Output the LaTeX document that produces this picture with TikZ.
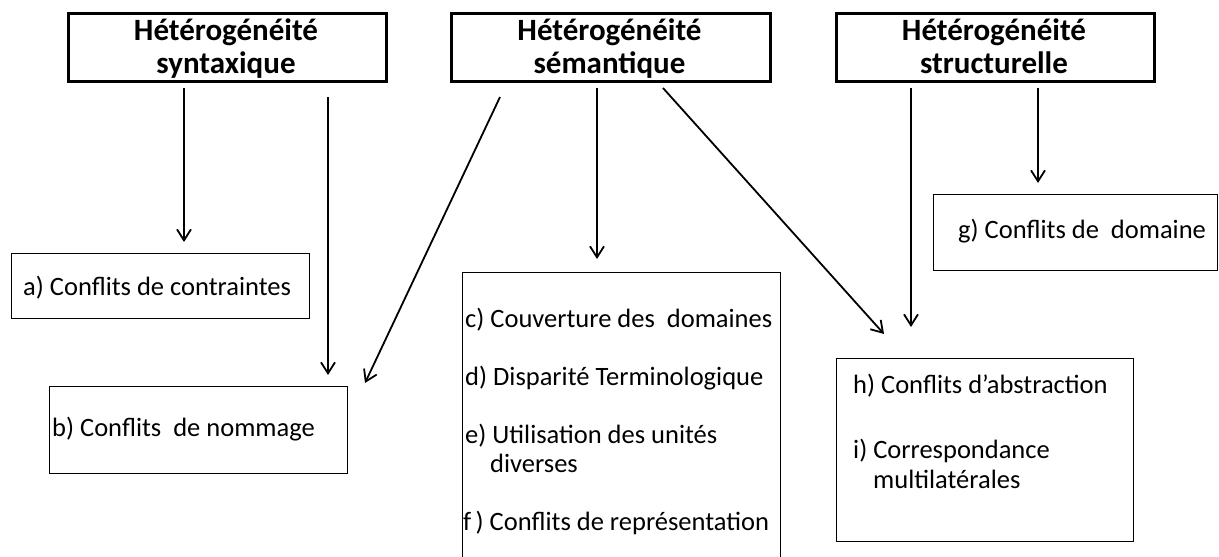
\documentclass[tikz,border=0pt]{standalone}
\usepackage{fontspec}
\setmainfont{Carlito}
\usetikzlibrary{arrows.meta}

\newcommand{\hetfont}{\fontsize{31}{34}\selectfont\bfseries}
\newcommand{\conffont}{\fontsize{26.5}{29}\selectfont}

\tikzset{
    box/.style={draw, inner sep=0pt, anchor=north west},
    headbox/.style={box, line width=2.6pt},
    confbox/.style={box, line width=1.3pt},
    head/.style={font=\hetfont, anchor=base, inner sep=0pt},
    conf/.style={font=\conffont, anchor=base west, inner sep=0pt},
    arr/.style={-{Straight Barb[length=11pt,width=14pt]}, line width=1.8pt}
}

\begin{document}
\begin{tikzpicture}[x=1pt,y=-1pt]
    \useasboundingbox (0,0) rectangle (1219,557);

    % heterogeneite boxes
    \node [headbox, minimum width=318pt, minimum height=68pt] (syn) at (67,12) {};
    \node [headbox, minimum width=319pt, minimum height=68pt] (sem) at (450,12) {};
    \node [headbox, minimum width=318pt, minimum height=68pt] (str) at (835,12) {};
    \node [head] (syn1) at (226,40) {Hétérogénéité};
    \node [head] (syn2) at (226,73) {syntaxique};
    \node [head] (sem1) at (609.5,40) {Hétérogénéité};
    \node [head] (sem2) at (609.5,73) {sémantique};
    \node [head] (str1) at (994,40) {Hétérogénéité};
    \node [head] (str2) at (994,73) {structurelle};

    % conflict boxes
    \node [confbox, minimum width=298pt, minimum height=65pt] (abox) at (11,253) {};
    \node [confbox, minimum width=298pt, minimum height=87pt] (bbox) at (49,386) {};
    \node [confbox, minimum width=284pt, minimum height=76pt] (gbox) at (933,194) {};
    \node [confbox, minimum width=318pt, minimum height=300pt] (cbox) at (462,272) {};
    \node [confbox, minimum width=297pt, minimum height=183pt] (hbox) at (836,358) {};

    \node [conf] (a) at (23,295) {a) Conflits de contraintes};
    \node [conf] (b) at (52,436) {b) Conflits\ \ de nommage};
    \node [conf] (g) at (958,238) {g) Conflits de\ \ domaine};
    \node [conf] (c) at (465,327) {c) Couverture des\ \ domaines};
    \node [conf] (d) at (465,385) {d) Disparité\ Terminologique};
    \node [conf] (e) at (465,443) {e) Utilisation des unités};
    \node [conf] (e2) at (490,472) {diverses};
    \node [conf] (f) at (463,530) {f\,) Conflits de représentation};
    \node [conf] (h) at (853,393) {h) Conflits\ d’abstraction};
    \node [conf] (i) at (853,458) {i) Correspondance};
    \node [conf] (i2) at (873,488) {multilatérales};

    % arrow ends
    \foreach \n/\x/\y in {s1/184/88, s2/328/97, s3/500/97, s4/597/88, s5/663/88, s6/911/88, s7/1038/88}
        \coordinate (\n) at (\x,\y);
    \foreach \n/\x/\y in {t1/184/242, t2/328/375, t3/365/383, t4/597/259, t5/884/334, t6/911/327, t7/1038/183}
        \coordinate (\n) at (\x,\y);

    \foreach \k in {1,...,7}
        \draw [arr] (s\k) -- (t\k);
\end{tikzpicture}
\end{document}
